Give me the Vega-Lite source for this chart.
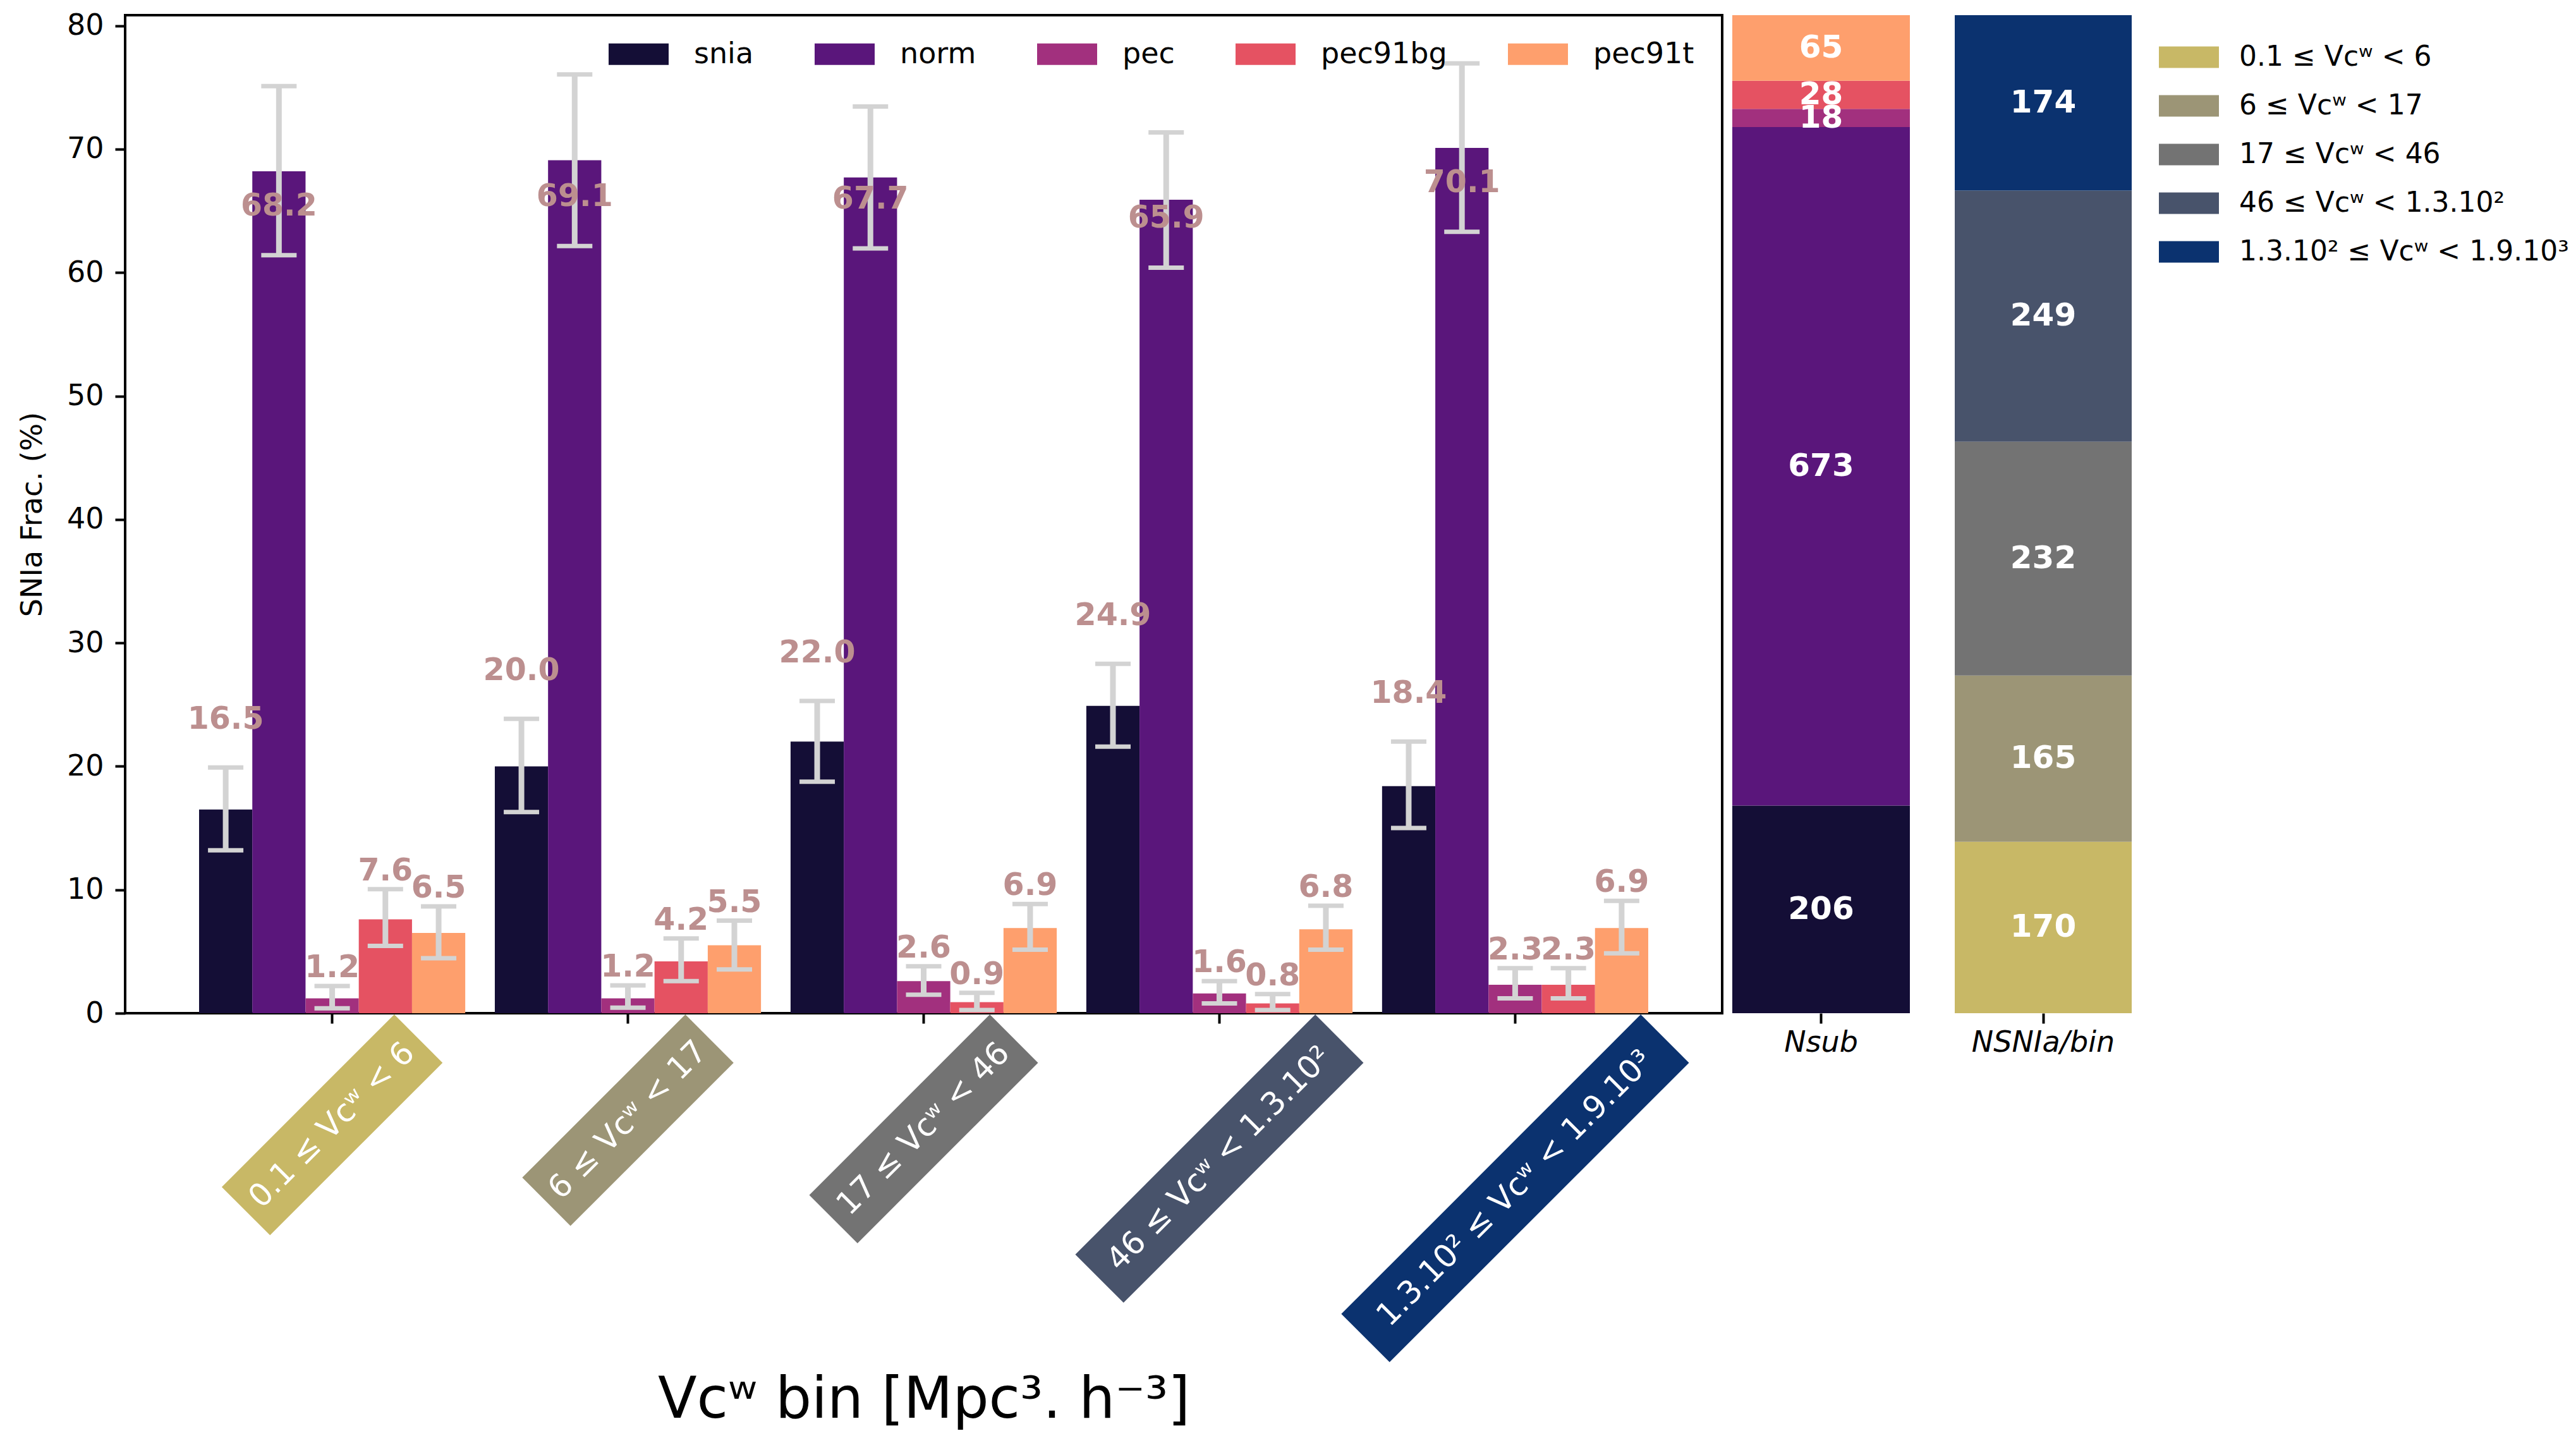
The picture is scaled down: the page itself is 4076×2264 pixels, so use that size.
{
  "$schema": "https://vega.github.io/schema/vega-lite/v6.json",
  "background": "white",
  "padding": {"left": 26, "top": 15, "right": 0, "bottom": 0},
  "config": {
    "font": "DejaVu Sans",
    "view": {"stroke": null},
    "axis": {"labelFont": "DejaVu Sans", "titleFont": "DejaVu Sans", "labelFontSize": 46, "titleFontSize": 46, "titleFontWeight": "normal", "labelColor": "black", "titleColor": "black", "tickColor": "black", "tickWidth": 4, "tickSize": 16, "domain": false, "grid": false, "labelLimit": 2000},
    "legend": {"labelFont": "DejaVu Sans", "labelFontSize": 46, "labelColor": "black", "symbolStrokeWidth": 0, "padding": 0, "symbolOpacity": 1, "labelLimit": 2000},
    "text": {"font": "DejaVu Sans"}
  },
  "datasets": {
    "frac": [
      {"bin": "0.1 ≤ Vcʷ < 6", "type": "snia", "v": 16.5, "lo": 13.2, "hi": 19.9},
      {"bin": "0.1 ≤ Vcʷ < 6", "type": "norm", "v": 68.2, "lo": 61.4, "hi": 75.1},
      {"bin": "0.1 ≤ Vcʷ < 6", "type": "pec", "v": 1.2, "lo": 0.4, "hi": 2.2},
      {"bin": "0.1 ≤ Vcʷ < 6", "type": "pec91bg", "v": 7.6, "lo": 5.45, "hi": 10.05},
      {"bin": "0.1 ≤ Vcʷ < 6", "type": "pec91t", "v": 6.5, "lo": 4.45, "hi": 8.65},
      {"bin": "6 ≤ Vcʷ < 17", "type": "snia", "v": 20.0, "lo": 16.3, "hi": 23.85},
      {"bin": "6 ≤ Vcʷ < 17", "type": "norm", "v": 69.1, "lo": 62.15, "hi": 76.05},
      {"bin": "6 ≤ Vcʷ < 17", "type": "pec", "v": 1.2, "lo": 0.45, "hi": 2.25},
      {"bin": "6 ≤ Vcʷ < 17", "type": "pec91bg", "v": 4.2, "lo": 2.6, "hi": 6.05},
      {"bin": "6 ≤ Vcʷ < 17", "type": "pec91t", "v": 5.5, "lo": 3.55, "hi": 7.5},
      {"bin": "17 ≤ Vcʷ < 46", "type": "snia", "v": 22.0, "lo": 18.75, "hi": 25.3},
      {"bin": "17 ≤ Vcʷ < 46", "type": "norm", "v": 67.7, "lo": 61.95, "hi": 73.45},
      {"bin": "17 ≤ Vcʷ < 46", "type": "pec", "v": 2.6, "lo": 1.5, "hi": 3.8},
      {"bin": "17 ≤ Vcʷ < 46", "type": "pec91bg", "v": 0.9, "lo": 0.25, "hi": 1.65},
      {"bin": "17 ≤ Vcʷ < 46", "type": "pec91t", "v": 6.9, "lo": 5.15, "hi": 8.85},
      {"bin": "46 ≤ Vcʷ < 1.3.10²", "type": "snia", "v": 24.9, "lo": 21.6, "hi": 28.3},
      {"bin": "46 ≤ Vcʷ < 1.3.10²", "type": "norm", "v": 65.9, "lo": 60.4, "hi": 71.35},
      {"bin": "46 ≤ Vcʷ < 1.3.10²", "type": "pec", "v": 1.6, "lo": 0.8, "hi": 2.6},
      {"bin": "46 ≤ Vcʷ < 1.3.10²", "type": "pec91bg", "v": 0.8, "lo": 0.25, "hi": 1.55},
      {"bin": "46 ≤ Vcʷ < 1.3.10²", "type": "pec91t", "v": 6.8, "lo": 5.15, "hi": 8.7},
      {"bin": "1.3.10² ≤ Vcʷ < 1.9.10³", "type": "snia", "v": 18.4, "lo": 15.0, "hi": 22.0},
      {"bin": "1.3.10² ≤ Vcʷ < 1.9.10³", "type": "norm", "v": 70.1, "lo": 63.3, "hi": 76.95},
      {"bin": "1.3.10² ≤ Vcʷ < 1.9.10³", "type": "pec", "v": 2.3, "lo": 1.2, "hi": 3.65},
      {"bin": "1.3.10² ≤ Vcʷ < 1.9.10³", "type": "pec91bg", "v": 2.3, "lo": 1.2, "hi": 3.65},
      {"bin": "1.3.10² ≤ Vcʷ < 1.9.10³", "type": "pec91t", "v": 6.9, "lo": 4.85, "hi": 9.1}
    ],
    "bins": [
      {"bin": "0.1 ≤ Vcʷ < 6", "n": 170, "edge": 0.1},
      {"bin": "6 ≤ Vcʷ < 17", "n": 165, "edge": 6},
      {"bin": "17 ≤ Vcʷ < 46", "n": 232, "edge": 17},
      {"bin": "46 ≤ Vcʷ < 1.3.10²", "n": 249, "edge": 46},
      {"bin": "1.3.10² ≤ Vcʷ < 1.9.10³", "n": 174, "edge": 130}
    ],
    "nsub": [
      {"type": "snia", "n": 206, "k": 1},
      {"type": "norm", "n": 673, "k": 2},
      {"type": "pec", "n": 18, "k": 3},
      {"type": "pec91bg", "n": 28, "k": 4},
      {"type": "pec91t", "n": 65, "k": 5}
    ]
  },
  "spacing": 14,
  "resolve": {"scale": {"color": "independent"}, "legend": {"color": "independent"}},
  "hconcat": [
    {
      "width": 2527,
      "height": 1579,
      "view": {"stroke": "black", "strokeWidth": 4},
      "data": {"name": "frac"},
      "layer": [
        {
          "mark": {"type": "bar"},
          "encoding": {
            "x": {
              "field": "bin", "type": "nominal",
              "scale": {"domain": ["0.1 ≤ Vcʷ < 6", "6 ≤ Vcʷ < 17", "17 ≤ Vcʷ < 46", "46 ≤ Vcʷ < 1.3.10²", "1.3.10² ≤ Vcʷ < 1.9.10³"], "paddingInner": 0.1, "paddingOuter": 0.25},
              "axis": {
                "title": "Vcʷ bin [Mpc³. h⁻³]", "titleFontSize": 90, "titleBaseline": "alphabetic", "titleY": 639,
                "labelAngle": -45, "labelAlign": "center", "labelBaseline": "middle", "labelColor": "white", "labelFontSize": 50,
                "labelLimit": 2000, "labelOverlap": false, "labelBound": false, "labelFlush": false,
                "labelPadding": {"condition": [
                  {"test": "datum.value === '0.1 ≤ Vcʷ < 6'", "value": 161},
                  {"test": "datum.value === '6 ≤ Vcʷ < 17'", "value": 153},
                  {"test": "datum.value === '17 ≤ Vcʷ < 46'", "value": 167},
                  {"test": "datum.value === '46 ≤ Vcʷ < 1.3.10²'", "value": 214}
                ], "value": 261},
                "zindex": 1
              }
            },
            "xOffset": {"field": "type", "type": "nominal", "scale": {"domain": ["snia", "norm", "pec", "pec91bg", "pec91t"], "paddingInner": 0, "paddingOuter": 0}},
            "y": {
              "field": "v", "type": "quantitative",
              "scale": {"domain": [0, 80.85], "nice": false},
              "axis": {"title": "SNIa Frac. (%)", "values": [0, 10, 20, 30, 40, 50, 60, 70, 80], "titlePadding": 30, "labelPadding": 18}
            },
            "color": {
              "field": "type", "type": "nominal",
              "scale": {"domain": ["snia", "norm", "pec", "pec91bg", "pec91t"], "range": ["#140e36", "#5a167b", "#a2307e", "#e55262", "#fe9f6d"]},
              "legend": {"orient": "none", "legendX": 765, "legendY": 14, "direction": "horizontal", "columns": 5, "columnPadding": 96, "symbolType": "M-1,-0.358L1,-0.358L1,0.358L-1,0.358Z", "symbolSize": 9025, "labelOffset": 40, "title": null}
            }
          }
        },
        {
          "data": {"name": "bins"},
          "mark": {"type": "point", "size": 4, "filled": true, "opacity": 1, "strokeWidth": 0},
          "encoding": {
            "x": {"field": "bin", "type": "nominal"},
            "y": {"datum": 0, "type": "quantitative"},
            "shape": {"field": "bin", "type": "nominal", "scale": {"domain": ["0.1 ≤ Vcʷ < 6", "6 ≤ Vcʷ < 17", "17 ≤ Vcʷ < 46", "46 ≤ Vcʷ < 1.3.10²", "1.3.10² ≤ Vcʷ < 1.9.10³"], "range": ["M98.3,2L174.7,78.4L-98.3,351.3L-174.7,274.9Z", "M90.9,2L167.2,78.4L-90.9,336.5L-167.2,260.1Z", "M104.7,2L181,78.4L-104.7,364L-181,287.7Z", "M151.7,2L228,78.4L-151.7,458.1L-228,381.7Z", "M198.7,2L275.1,78.4L-198.7,552.1L-275.1,475.8Z"]}, "legend": null},
            "fill": {"field": "bin", "type": "nominal", "scale": {"domain": ["0.1 ≤ Vcʷ < 6", "6 ≤ Vcʷ < 17", "17 ≤ Vcʷ < 46", "46 ≤ Vcʷ < 1.3.10²", "1.3.10² ≤ Vcʷ < 1.9.10³"], "range": ["#c8b866", "#9c9576", "#737373", "#48536b", "#0b326f"]}, "legend": null}
          }
        },
        {
          "mark": {"type": "rule", "color": "#d3d3d3", "strokeWidth": 9},
          "encoding": {
            "x": {"field": "bin", "type": "nominal"},
            "xOffset": {"field": "type", "type": "nominal"},
            "y": {"field": "lo", "type": "quantitative"},
            "y2": {"field": "hi"}
          }
        },
        {
          "mark": {"type": "tick", "color": "#d3d3d3", "size": 56, "thickness": 7, "opacity": 1},
          "encoding": {
            "x": {"field": "bin", "type": "nominal"},
            "xOffset": {"field": "type", "type": "nominal"},
            "y": {"field": "lo", "type": "quantitative"}
          }
        },
        {
          "mark": {"type": "tick", "color": "#d3d3d3", "size": 56, "thickness": 7, "opacity": 1},
          "encoding": {
            "x": {"field": "bin", "type": "nominal"},
            "xOffset": {"field": "type", "type": "nominal"},
            "y": {"field": "hi", "type": "quantitative"}
          }
        },
        {
          "transform": [{"filter": "datum.type === 'snia'"}],
          "mark": {"type": "text", "fontSize": 49, "fontWeight": "bold", "color": "#bc8f8f", "baseline": "middle", "align": "center", "dy": -76},
          "encoding": {
            "x": {"field": "bin", "type": "nominal"},
            "xOffset": {"field": "type", "type": "nominal"},
            "y": {"field": "hi", "type": "quantitative"},
            "text": {"field": "v", "type": "quantitative", "format": ".1f"}
          }
        },
        {
          "transform": [{"filter": "datum.type === 'norm'"}],
          "mark": {"type": "text", "fontSize": 49, "fontWeight": "bold", "color": "#bc8f8f", "baseline": "middle", "align": "center", "dy": -78},
          "encoding": {
            "x": {"field": "bin", "type": "nominal"},
            "xOffset": {"field": "type", "type": "nominal"},
            "y": {"field": "lo", "type": "quantitative"},
            "text": {"field": "v", "type": "quantitative", "format": ".1f"}
          }
        },
        {
          "transform": [{"filter": {"field": "type", "oneOf": ["pec", "pec91bg", "pec91t"]}}],
          "mark": {"type": "text", "fontSize": 49, "fontWeight": "bold", "color": "#bc8f8f", "baseline": "middle", "align": "center", "dy": -29},
          "encoding": {
            "x": {"field": "bin", "type": "nominal"},
            "xOffset": {"field": "type", "type": "nominal"},
            "y": {"field": "hi", "type": "quantitative"},
            "text": {"field": "v", "type": "quantitative", "format": ".1f"}
          }
        }
      ]
    },
    {
      "spacing": 71,
      "resolve": {"scale": {"color": "independent"}, "legend": {"color": "independent"}},
      "hconcat": [
        {
          "width": 281,
          "height": 1579,
          "data": {"name": "nsub"},
          "encoding": {
            "x": {"datum": "Nsub", "type": "nominal", "scale": {"paddingInner": 0, "paddingOuter": 0}, "axis": {"title": null, "labelAngle": 0, "labelFontStyle": "italic", "labelPadding": 8, "labelLimit": 2000}},
            "order": {"field": "k", "type": "quantitative"}
          },
          "layer": [
            {
              "mark": {"type": "bar"},
              "encoding": {
                "y": {"field": "n", "type": "quantitative", "stack": "zero", "scale": {"domain": [0, 990], "nice": false}, "axis": null},
                "color": {"field": "type", "type": "nominal", "scale": {"domain": ["snia", "norm", "pec", "pec91bg", "pec91t"], "range": ["#140e36", "#5a167b", "#a2307e", "#e55262", "#fe9f6d"]}, "legend": null}
              }
            },
            {
              "mark": {"type": "text", "color": "white", "fontWeight": "bold", "fontSize": 50, "baseline": "middle", "align": "center"},
              "encoding": {
                "y": {"field": "n", "type": "quantitative", "stack": "zero", "bandPosition": 0.5},
                "detail": {"field": "type", "type": "nominal"},
                "text": {"field": "n", "type": "quantitative"}
              }
            }
          ]
        },
        {
          "width": 280,
          "height": 1579,
          "data": {"name": "bins"},
          "encoding": {
            "x": {"datum": "NSNIa/bin", "type": "nominal", "scale": {"paddingInner": 0, "paddingOuter": 0}, "axis": {"title": null, "labelAngle": 0, "labelFontStyle": "italic", "labelPadding": 8, "labelLimit": 2000}},
            "order": {"field": "edge", "type": "quantitative"}
          },
          "layer": [
            {
              "mark": {"type": "bar"},
              "encoding": {
                "y": {"field": "n", "type": "quantitative", "stack": "zero", "scale": {"domain": [0, 990], "nice": false}, "axis": null},
                "color": {
                  "field": "bin", "type": "nominal",
                  "scale": {"domain": ["0.1 ≤ Vcʷ < 6", "6 ≤ Vcʷ < 17", "17 ≤ Vcʷ < 46", "46 ≤ Vcʷ < 1.3.10²", "1.3.10² ≤ Vcʷ < 1.9.10³"], "range": ["#c8b866", "#9c9576", "#737373", "#48536b", "#0b326f"]},
                  "legend": {"orient": "none", "legendX": 323, "legendY": 19, "direction": "vertical", "symbolType": "M-1,-0.358L1,-0.358L1,0.358L-1,0.358Z", "symbolSize": 9025, "labelOffset": 32, "rowPadding": 7, "labelFontSize": 44, "title": null}
                }
              }
            },
            {
              "mark": {"type": "text", "color": "white", "fontWeight": "bold", "fontSize": 50, "baseline": "middle", "align": "center"},
              "encoding": {
                "y": {"field": "n", "type": "quantitative", "stack": "zero", "bandPosition": 0.5},
                "detail": {"field": "bin", "type": "nominal"},
                "text": {"field": "n", "type": "quantitative"}
              }
            }
          ]
        }
      ]
    }
  ]
}
